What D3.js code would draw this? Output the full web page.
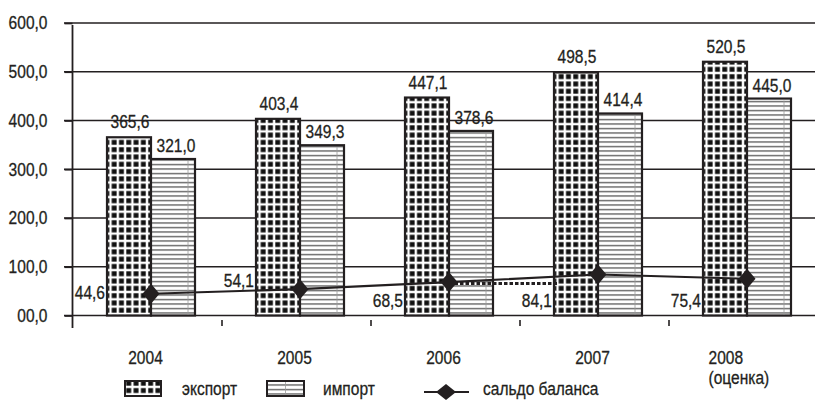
<!DOCTYPE html>
<html>
<head>
<meta charset="utf-8">
<script src="https://cdn.jsdelivr.net/npm/d3@7"></script>
<style>
  html, body { margin: 0; padding: 0; background: #fff; }
  svg { display: block; }
  text { font-family: "Liberation Sans", Arial, sans-serif; fill: #231f20; stroke: #231f20; stroke-width: 0.3; }
</style>
</head>
<body>
<svg id="chart" width="815" height="404"></svg>
<script>
// Foreign trade: export, import and trade balance, bn USD
const years = ["2004", "2005", "2006", "2007", "2008"];
const yearLabels = ["2004", "2005", "2006", "2007", "2008\n(оценка)"];
const exportValues = [365.6, 403.4, 447.1, 498.5, 520.5];
const importValues = [321.0, 349.3, 378.6, 414.4, 445.0];
const balanceValues = [44.6, 54.1, 68.5, 84.1, 75.4];
const yTickValues = [0, 100, 200, 300, 400, 500, 600];
const yTickLabels = ["00,0", "100,0", "200,0", "300,0", "400,0", "500,0", "600,0"];
const seriesNames = ["экспорт", "импорт", "сальдо баланса"];

const fmt = v => v.toFixed(1).replace(".", ",");
const ink = "#231f20";
const FS = 18.5;
const SX = 0.84; // horizontal squeeze for a condensed look

// move a text's x/y into a transform so the glyphs can be narrowed
function squeeze(sel) {
  sel.each(function() {
    const t = d3.select(this);
    const x = +t.attr("x") || 0, yy = +t.attr("y") || 0;
    t.attr("x", 0).attr("y", 0)
      .attr("transform", `translate(${x},${yy}) scale(${SX},1)`);
    t.selectAll("tspan").attr("x", 0);
  });
  return sel;
}

const svg = d3.select("#chart");

// fill patterns
const defs = svg.append("defs");
const pExp = defs.append("pattern").attr("id", "pat-export")
  .attr("patternUnits", "userSpaceOnUse").attr("width", 7.3).attr("height", 7.3)
  .attr("x", 1).attr("y", 0);
pExp.append("rect").attr("width", 7.3).attr("height", 7.3).attr("fill", "#fff");
pExp.append("rect").attr("x", 1.2).attr("y", 1.2).attr("width", 4.9).attr("height", 4.9).attr("fill", "#111");
const pImp = defs.append("pattern").attr("id", "pat-import")
  .attr("patternUnits", "userSpaceOnUse").attr("width", 10).attr("height", 4.5);
pImp.append("rect").attr("width", 10).attr("height", 4.5).attr("fill", "#fff");
pImp.append("rect").attr("y", 2).attr("width", 10).attr("height", 1.1).attr("fill", "#3a3a3a");

// scales
const y = d3.scaleLinear().domain([0, 600]).range([315.5, 23]);
const x0 = d3.scaleBand().domain(years).range([73, 818]).padding(0);
const x1 = d3.scaleBand().domain(["export", "import"]).range([34, 122]).padding(0);

// grid lines
svg.append("g").selectAll("line").data(yTickValues).join("line")
  .attr("x1", 64).attr("x2", 815)
  .attr("y1", d => y(d)).attr("y2", d => y(d))
  .attr("stroke", ink).attr("stroke-width", 1.7);

// y axis
const yAxis = d3.axisLeft(y).tickValues(yTickValues)
  .tickFormat((d, i) => yTickLabels[i]).tickSize(8).tickPadding(17);
const gy = svg.append("g").attr("transform", "translate(72.5,0)").call(yAxis);
gy.select(".domain").remove();
gy.selectAll(".tick line").attr("stroke", ink).attr("stroke-width", 1.7);
squeeze(gy.selectAll(".tick text").attr("font-size", FS).attr("font-family", null).attr("fill", ink));
svg.append("line").attr("x1", 72.5).attr("x2", 72.5).attr("y1", 25).attr("y2", 328)
  .attr("stroke", ink).attr("stroke-width", 1.8);

// x axis labels
const xAxis = d3.axisBottom(x0).tickSize(0).tickPadding(0).tickFormat("");
const gx = svg.append("g").attr("transform", "translate(0,315.5)").call(xAxis);
gx.select(".domain").remove();
gx.selectAll(".tick").each(function(d, i) {
  const lines = yearLabels[i].split("\n");
  const multi = lines.length > 1;
  const t = d3.select(this).append("text")
    .attr("font-size", FS).attr("fill", ink)
    .attr("text-anchor", multi ? "start" : "middle")
    .attr("x", multi ? -35 : -2).attr("y", 48);
  lines.forEach((s, k) => {
    t.append("tspan").attr("dy", k ? 21 : 0).text(s);
  });
  squeeze(t);
});
// category separators below the axis
svg.append("g").selectAll("line").data(years.slice(1)).join("line")
  .attr("x1", d => x0(d)).attr("x2", d => x0(d))
  .attr("y1", 320).attr("y2", 326)
  .attr("stroke", ink).attr("stroke-width", 1.6);

// bars
const groups = svg.append("g").selectAll("g").data(years).join("g")
  .attr("transform", d => `translate(${x0(d)},0)`);
groups.append("rect")
  .attr("x", x1("export")).attr("width", x1.bandwidth())
  .attr("y", (d, i) => y(exportValues[i]))
  .attr("height", (d, i) => y(0) - y(exportValues[i]))
  .attr("fill", "url(#pat-export)").attr("stroke", ink).attr("stroke-width", 2.2);
groups.append("rect")
  .attr("x", x1("import")).attr("width", x1.bandwidth())
  .attr("y", (d, i) => y(importValues[i]))
  .attr("height", (d, i) => y(0) - y(importValues[i]))
  .attr("fill", "url(#pat-import)").attr("stroke", ink).attr("stroke-width", 2.2);
// faint divider inside the striped bars
groups.append("line")
  .attr("x1", x1("import") + x1.bandwidth() - 7).attr("x2", x1("import") + x1.bandwidth() - 7)
  .attr("y1", (d, i) => y(importValues[i]) + 2).attr("y2", y(0) - 1)
  .attr("stroke", "#9a9a9a").attr("stroke-width", 0.8);

// value labels
squeeze(groups.append("text")
  .attr("x", x1("export") + x1.bandwidth() / 2 + 1)
  .attr("y", (d, i) => y(exportValues[i]) - 9)
  .attr("text-anchor", "middle").attr("font-size", FS)
  .text((d, i) => fmt(exportValues[i])));
squeeze(groups.append("text")
  .attr("x", x1("import") + x1.bandwidth() / 2 + 3)
  .attr("y", (d, i) => y(importValues[i]) - 7)
  .attr("text-anchor", "middle").attr("font-size", FS)
  .text((d, i) => fmt(importValues[i])));

// balance line
const bx = d => x0(d) + x1("import");
const line = d3.line().x(d => bx(d)).y((d, i) => y(balanceValues[i]));
// dotted connector running right from the 2006 point
svg.append("line")
  .attr("x1", bx(years[2])).attr("x2", x0(years[3]) + x1("export") + 4)
  .attr("y1", y(balanceValues[2]) + 1.5).attr("y2", y(balanceValues[2]) + 1.5)
  .attr("stroke", ink).attr("stroke-width", 3).attr("stroke-dasharray", "3.5,2");
svg.append("path").datum(years)
  .attr("d", line).attr("fill", "none").attr("stroke", ink).attr("stroke-width", 2.2);
const diamond = "M0,-10L8.5,0L0,10L-8.5,0Z";
svg.append("g").selectAll("path").data(years).join("path")
  .attr("transform", (d, i) => `translate(${bx(d)},${y(balanceValues[i])})`)
  .attr("d", diamond).attr("fill", ink);
// balance labels, to the left of each export bar
squeeze(svg.append("g").selectAll("text").data(years).join("text")
  .attr("x", d => x0(d) + x1("export") - 2)
  .attr("y", (d, i) => i === 0 ? y(balanceValues[i]) + 5 : i === 1 ? y(balanceValues[i]) - 2 : y(0) - 9)
  .attr("text-anchor", "end").attr("font-size", FS)
  .text((d, i) => fmt(balanceValues[i])));

// legend
const lg = svg.append("g");
lg.append("rect").attr("x", 125).attr("y", 381).attr("width", 36).attr("height", 15)
  .attr("fill", "url(#pat-export)").attr("stroke", ink).attr("stroke-width", 2);
lg.append("rect").attr("x", 267).attr("y", 381).attr("width", 37).attr("height", 15)
  .attr("fill", "url(#pat-import)").attr("stroke", ink).attr("stroke-width", 2);
lg.append("line").attr("x1", 285.5).attr("x2", 285.5).attr("y1", 382).attr("y2", 395)
  .attr("stroke", "#9a9a9a").attr("stroke-width", 0.8);
lg.append("line").attr("x1", 424).attr("x2", 469).attr("y1", 392).attr("y2", 392)
  .attr("stroke", ink).attr("stroke-width", 2.2);
lg.append("path").attr("transform", "translate(446,392)").attr("d", "M0,-8L10,0L0,8L-10,0Z").attr("fill", ink);
squeeze(lg.selectAll("text.lbl").data(seriesNames).join("text").attr("class", "lbl")
  .attr("x", (d, i) => [182, 323, 483][i]).attr("y", 395)
  .attr("font-size", FS).text(d => d));
</script>
</body>
</html>
